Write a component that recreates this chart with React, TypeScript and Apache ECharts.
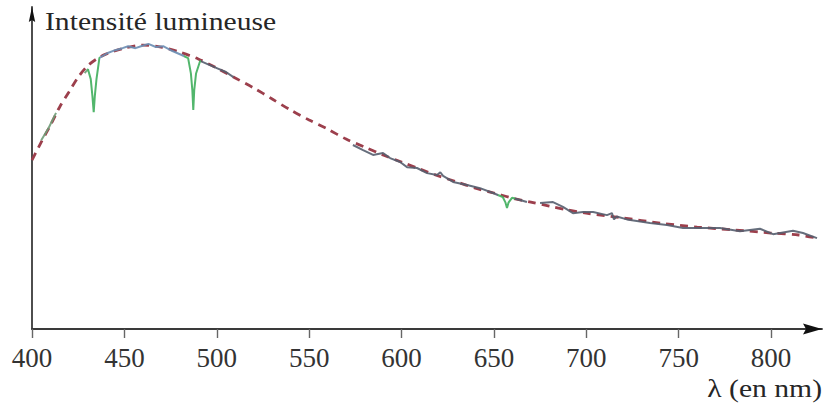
import React, { useEffect, useRef } from "react";
import * as echarts from "echarts";

// Wavelength (nm) samples of the theoretical (black-body) curve
const bbLambda = [400, 405, 410, 415, 420, 425, 430, 435, 440, 450, 460, 470, 480, 490, 500, 510, 520, 530, 540, 550, 560, 570, 580, 590, 600, 610, 620, 630, 640, 650, 660, 670, 680, 690, 700, 720, 740, 760, 780, 800, 815, 825];
// Relative intensity of the theoretical curve (peak = 1)
const bbIntensity = [0.595, 0.658, 0.718, 0.782, 0.835, 0.887, 0.926, 0.951, 0.968, 0.989, 1.0, 0.993, 0.975, 0.951, 0.919, 0.884, 0.849, 0.81, 0.771, 0.736, 0.704, 0.669, 0.641, 0.613, 0.588, 0.563, 0.539, 0.518, 0.496, 0.479, 0.461, 0.447, 0.433, 0.419, 0.408, 0.391, 0.373, 0.359, 0.349, 0.338, 0.331, 0.32];

// Measured spectrum, in visible pieces [λ, intensity]
const spectrumA = [[405, 0.665], [409, 0.708], [413, 0.761]];
const spectrumB = [
  [428.5, 0.901], [430.3, 0.915], [431.8, 0.88], [432.7, 0.82], [433.4, 0.764], [434.0, 0.82], [434.9, 0.88], [436.5, 0.955],
  [441, 0.972], [445, 0.982], [449, 0.989], [452, 0.996], [456, 0.989], [459, 0.996], [463, 1.004], [467, 0.993], [471, 0.996],
  [476, 0.979], [481, 0.965], [484.5, 0.954], [486, 0.9], [486.8, 0.84], [487.3, 0.771], [487.8, 0.84], [488.8, 0.9], [491, 0.944],
  [495, 0.933], [500, 0.919], [505, 0.905], [509, 0.887],
];
const spectrumC = [
  [573.7, 0.648], [579.2, 0.63], [584.6, 0.613], [590, 0.62], [593.8, 0.602], [599.2, 0.588], [603, 0.57], [608.4, 0.567],
  [613.8, 0.549], [619.2, 0.542], [621, 0.552], [622.5, 0.539], [627.9, 0.518], [635.5, 0.507], [642.5, 0.496], [649.5, 0.479],
  [654.8, 0.465], [656.3, 0.445], [657.1, 0.426], [657.9, 0.445], [659.8, 0.462], [664.1, 0.454], [667.9, 0.447],
];
const spectrumD = [
  [675, 0.444], [682, 0.447], [687.4, 0.43], [692.8, 0.408], [698.2, 0.412], [703.7, 0.412], [711.2, 0.401], [713.9, 0.408],
  [715, 0.386], [716.5, 0.396], [722, 0.386], [734.5, 0.373], [743.7, 0.366], [752.4, 0.356], [763.2, 0.356], [772.4, 0.356],
  [783.2, 0.344], [794, 0.353], [801.1, 0.334], [811.9, 0.346], [817.3, 0.338], [824.9, 0.32],
];

// Absorption line bands (nm) and coloured regions of the measured spectrum
const absorptionBands = [[429.5, 437], [482, 491.5], [652, 661.5]];
const blueBand = [437, 482];
const violetBand = [400, 429.5];

const xTicks = [400, 450, 500, 550, 600, 650, 700, 750, 800];
const titleText = "Intensité lumineuse";
const axisNameText = "λ (en nm)";

export default function App() {
  const ref = useRef<HTMLDivElement>(null);
  useEffect(() => {
    if (!ref.current) return;
    const chart = echarts.init(ref.current, null, { renderer: "svg" });
    const segs = [spectrumA, spectrumB, spectrumC, spectrumD];
    const solid: any[] = [];
    segs.forEach((s, i) => {
      s.forEach((p) => solid.push(p));
      if (i < segs.length - 1) solid.push([s[s.length - 1][0] + 0.5, "-"]);
    });
    const green = "#3fae5c";
    const pieces: any[] = [
      { gte: violetBand[0], lt: violetBand[1], color: "#6f9c76" },
      { gte: blueBand[0], lt: blueBand[1], color: "#6a8db3" },
      ...absorptionBands.map((b) => ({ gte: b[0], lt: b[1], color: green })),
    ];
    const serif = '"Liberation Serif", "Times New Roman", serif';
    const gridLeft = 32, gridRight = 5, gridTop = 7, gridBottom = 81;
    const W = 827, H = 410;
    const xEnd = W - gridRight, yBase = H - gridBottom;
    chart.setOption({
      animation: false,
      grid: { left: gridLeft, right: gridRight, top: gridTop, bottom: gridBottom },
      xAxis: {
        type: "value",
        min: 400,
        max: 827.6,
        interval: 50,
        axisLine: { show: true, lineStyle: { color: "#3a3a3a", width: 1.8 } },
        axisTick: { show: true, length: 9, customValues: xTicks, lineStyle: { color: "#666", width: 1.4 } },
        axisLabel: {
          customValues: xTicks,
          margin: 15,
          fontSize: 27,
          fontFamily: serif,
          color: "#333",
          formatter: (v: number) => (xTicks.indexOf(v) >= 0 ? String(v) : ""),
        },
        splitLine: { show: false },
      },
      yAxis: {
        type: "value",
        min: 0,
        max: 1.134,
        axisLine: { show: true, lineStyle: { color: "#3a3a3a", width: 1.8 } },
        axisTick: { show: false },
        axisLabel: { show: false },
        splitLine: { show: false },
      },
      visualMap: {
        type: "piecewise",
        show: false,
        dimension: 0,
        seriesIndex: 1,
        pieces,
        outOfRange: { color: "#555e6e" },
      },
      series: [
        {
          type: "line",
          data: bbLambda.map((l, i) => [l, bbIntensity[i]]),
          smooth: 0.3,
          symbol: "none",
          clip: false,
          lineStyle: { color: "#9c3f4c", width: 2.8, type: [8, 6] },
          z: 2,
        },
        {
          type: "line",
          data: solid,
          symbol: "none",
          clip: false,
          connectNulls: false,
          lineStyle: { width: 2, opacity: 0.9 },
          z: 3,
        },
      ],
      graphic: [
        {
          type: "polygon",
          z: 10,
          shape: { points: [[xEnd, yBase], [xEnd - 19, yBase - 5.5], [xEnd - 16, yBase], [xEnd - 19, yBase + 5.5]] },
          style: { fill: "#111" },
        },
        {
          type: "polygon",
          z: 10,
          shape: { points: [[gridLeft, gridTop], [gridLeft - 3.2, gridTop + 15], [gridLeft, gridTop + 13], [gridLeft + 3.2, gridTop + 15]] },
          style: { fill: "#111" },
        },
        {
          type: "text",
          x: 45,
          y: 21,
          scaleX: 1.14,
          style: { text: titleText, fontSize: 26, fontFamily: serif, fill: "#262626", align: "left", verticalAlign: "middle" },
        },
        {
          type: "text",
          x: 822,
          y: 388,
          scaleX: 1.14,
          style: { text: axisNameText, fontSize: 26, fontFamily: serif, fill: "#262626", align: "right", verticalAlign: "middle" },
        },
      ],
    });
    return () => chart.dispose();
  }, []);
  return <div ref={ref} style={{ position: "fixed", left: 0, top: 0, width: 827, height: 410, background: "#fff" }} />;
}
